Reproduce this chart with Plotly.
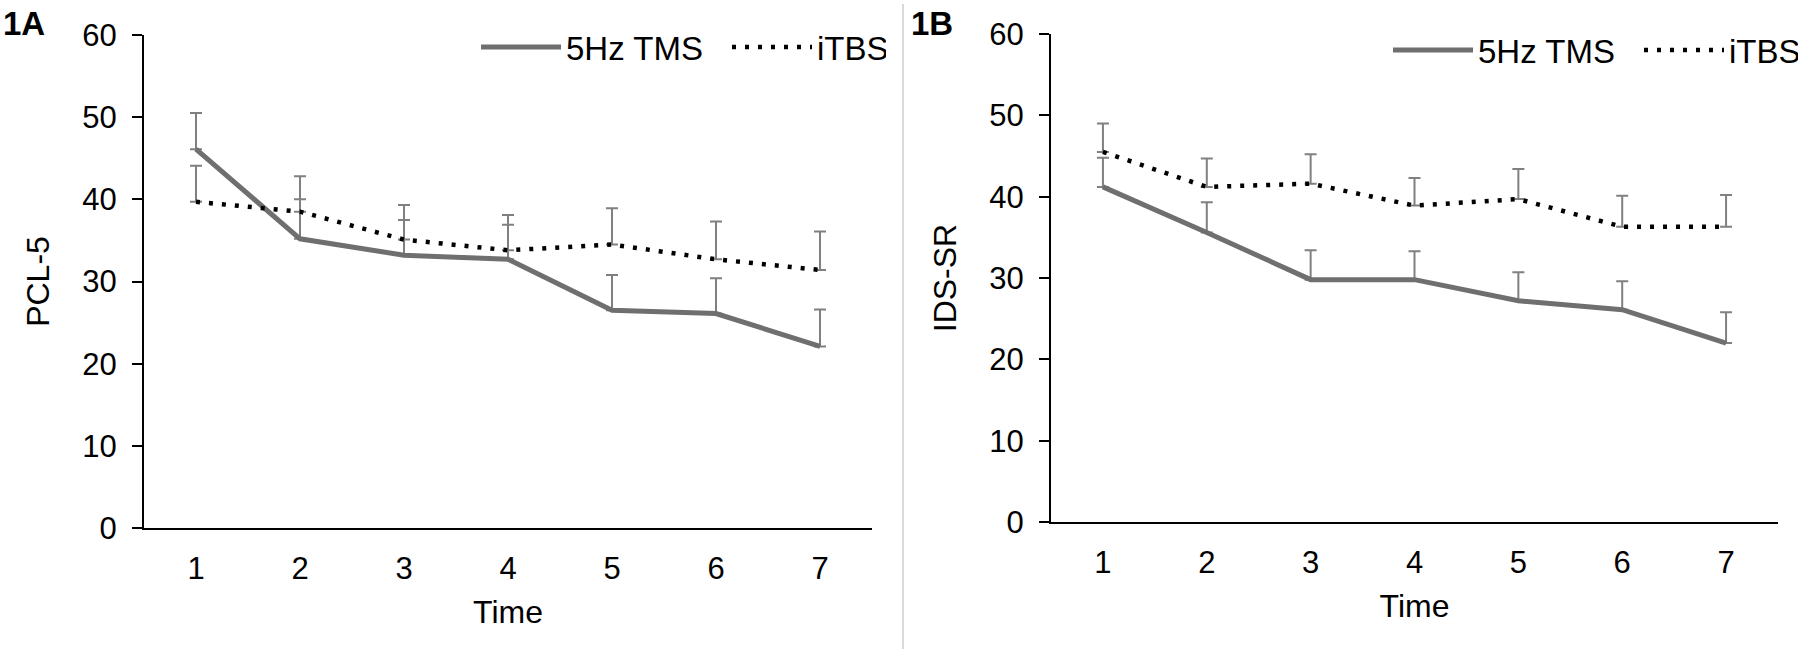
import plotly.graph_objects as go

time = [1, 2, 3, 4, 5, 6, 7]
time_ticks = ["1", "2", "3", "4", "5", "6", "7"]

# Panel 1A: PCL-5
pcl_tms = [46.1, 35.2, 33.2, 32.7, 26.5, 26.1, 22.1]
pcl_tms_err = [4.4, 4.8, 4.3, 4.2, 4.3, 4.3, 4.5]
pcl_itbs = [39.7, 38.5, 35.1, 33.8, 34.5, 32.7, 31.4]
pcl_itbs_err = [4.4, 4.3, 4.2, 4.3, 4.4, 4.6, 4.7]

# Panel 1B: IDS-SR
ids_tms = [41.2, 35.6, 29.8, 29.8, 27.2, 26.1, 22.0]
ids_tms_err = [3.6, 3.7, 3.6, 3.5, 3.5, 3.5, 3.8]
ids_itbs = [45.5, 41.2, 41.6, 38.9, 39.7, 36.3, 36.3]
ids_itbs_err = [3.5, 3.5, 3.6, 3.4, 3.7, 3.8, 3.9]

W, H = 1800, 649
FONT = "Liberation Sans, Arial, sans-serif"
GRAY = "#6f6f6f"
ERRC = "#808080"

def err(vals):
    return dict(type="data", array=vals, arrayminus=[0] * len(vals), symmetric=False,
                color=ERRC, thickness=2, width=6)

fig = go.Figure()

panels = [
    ("x", "y", "legend", pcl_tms, pcl_tms_err, pcl_itbs, pcl_itbs_err),
    ("x2", "y2", "legend2", ids_tms, ids_tms_err, ids_itbs, ids_itbs_err),
]
for xa, ya, lg, tms, tms_e, itbs, itbs_e in panels:
    fig.add_trace(go.Scatter(x=time, y=tms, mode="lines", name="5Hz TMS",
                             line=dict(color=GRAY, width=5), error_y=err(tms_e),
                             xaxis=xa, yaxis=ya, legend=lg, legendwidth=156))
    fig.add_trace(go.Scatter(x=time, y=itbs, mode="lines", name="iTBS",
                             line=dict(color="black", width=4.5, dash="4px,9px"),
                             error_y=err(itbs_e), xaxis=xa, yaxis=ya, legend=lg,
                             legendwidth=64))

def px_x(p):
    return p / W

def px_y(p):
    return 1 - p / H

TICKF = dict(family=FONT, size=31, color="black")
TITLEF = dict(family=FONT, size=32, color="black")

axis_common = dict(showline=True, linecolor="black", linewidth=2, showgrid=False,
                   zeroline=False, tickfont=TICKF, automargin=False)

xa_common = dict(axis_common, range=[0.5, 7.5], tickvals=time, ticktext=time_ticks,
                 ticks="", ticklabelstandoff=12,
                 title=dict(text="Time", font=TITLEF, standoff=15))
ya_common = dict(axis_common, range=[0, 60], tickvals=[0, 10, 20, 30, 40, 50, 60],
                 ticks="outside", ticklen=10, tickwidth=2, tickcolor="black",
                 ticklabelstandoff=9)

legend_common = dict(orientation="h", xanchor="left", yanchor="middle",
                     font=dict(family=FONT, size=33, color="black"), bgcolor="rgba(0,0,0,0)",
                     itemwidth=80, entrywidthmode="pixels", tracegroupgap=0)

fig.update_layout(
    width=W, height=H,
    margin=dict(l=0, r=0, t=0, b=0, autoexpand=False),
    paper_bgcolor="white", plot_bgcolor="white",
    font=dict(family=FONT, size=31, color="black"),
    xaxis=dict(xa_common, domain=[px_x(144), px_x(872)], anchor="y"),
    yaxis=dict(ya_common, domain=[px_y(528), px_y(35)], anchor="x",
               title=dict(text="PCL-5", font=TITLEF, standoff=23)),
    xaxis2=dict(xa_common, domain=[px_x(1051), px_x(1778)], anchor="y2"),
    yaxis2=dict(ya_common, domain=[px_y(522), px_y(34)], anchor="x2",
                title=dict(text="IDS-SR", font=TITLEF, standoff=23)),
    legend=dict(legend_common, x=px_x(476), y=px_y(47)),
    legend2=dict(legend_common, x=px_x(1388), y=px_y(50)),
    showlegend=True,
)

fig.add_annotation(text="<b>1A</b>", xref="paper", yref="paper", x=px_x(1), y=px_y(24),
                   xanchor="left", yanchor="middle", showarrow=False,
                   font=dict(family=FONT, size=33, color="black"))
fig.add_annotation(text="<b>1B</b>", xref="paper", yref="paper", x=px_x(909), y=px_y(24),
                   xanchor="left", yanchor="middle", showarrow=False,
                   font=dict(family=FONT, size=33, color="black"))
fig.add_shape(type="line", xref="paper", yref="paper", x0=px_x(903), x1=px_x(903),
              y0=px_y(649), y1=px_y(4), line=dict(color="#d9d9d9", width=2))

fig.write_html("out.html", config={"displayModeBar": False},
               post_script="document.body.style.margin='0';document.body.style.overflow='hidden';")
